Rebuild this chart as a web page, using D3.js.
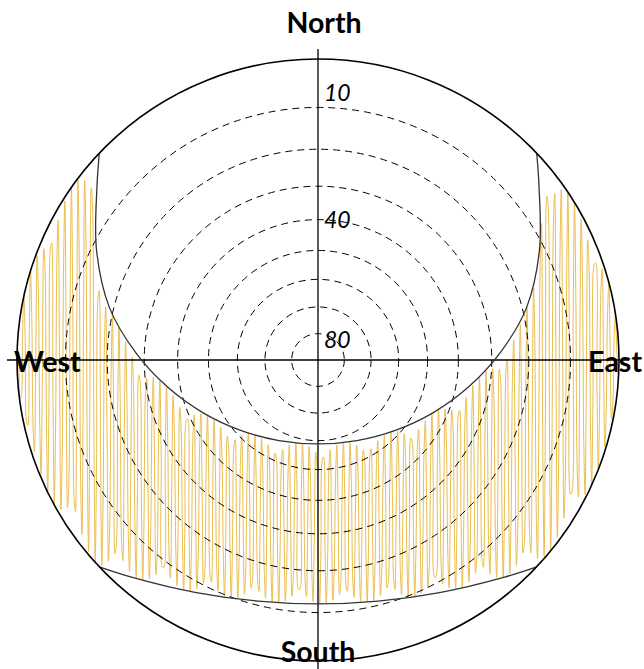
<!DOCTYPE html>
<html>
<head>
<meta charset="utf-8">
<script src="https://cdn.jsdelivr.net/npm/d3@7"></script>
<style>
  body { margin: 0; background: #fff; }
  text { font-family: Lato, "Open Sans", sans-serif; }
</style>
</head>
<body>
<svg id="chart"></svg>
<script>
// altitude rings (degrees above horizon) and the ones that get a label
const altitudeRings = [10, 20, 30, 40, 50, 60, 70, 80];
const ringLabels = [10, 40, 80];
const compassNames = ["North", "East", "South", "West"];

// summer solstice sun path, [azimuth, altitude]
const summerPath = [
  [46.6, 0], [52.1, 4.1], [63.6, 11.2], [75.9, 18.92], [87.6, 27.51],
  [100.2, 36.16], [114.7, 44.43], [132.3, 51.68], [154.2, 56.89], [180, 58.84],
  [205.8, 56.89], [227.7, 51.68], [245.3, 44.43], [259.8, 36.16], [272.4, 27.51],
  [284.1, 18.92], [296.4, 11.2], [307.9, 4.1], [313.4, 0]
];
// winter solstice sun path, [azimuth, altitude]
const winterPath = [
  [133.4, 0], [139.5, 2.96], [152.4, 7.82], [166, 10.91], [180, 11.96],
  [194, 10.91], [207.6, 7.82], [220.5, 2.96], [226.6, 0]
];

const width = 644, height = 669;
const cx = 318, cy = 360, R = 301;
const rad = Math.PI / 180;

const svg = d3.select('#chart')
  .attr('width', width)
  .attr('height', height);

// stereographic radius: tan of half zenith angle -> pixels
const rScale = d3.scaleLinear().domain([0, 1]).range([0, R]);
const radius = alt => rScale(Math.tan((90 - alt) / 2 * rad));
const proj = ([az, alt]) => {
  const r = radius(alt);
  return [cx + r * Math.sin(az * rad), cy - r * Math.cos(az * rad)];
};

const pathLine = d3.line().curve(d3.curveCatmullRom.alpha(0.5));
const summerD = pathLine(summerPath.map(proj));
const winterD = pathLine(winterPath.map(proj));

// lowest screen y of a path for each pixel column
function columnMax(d) {
  const p = svg.append('path').attr('d', d).attr('fill', 'none');
  const node = p.node();
  const len = node.getTotalLength();
  const m = new Map();
  for (let s = 0; s <= len; s += 0.4) {
    const pt = node.getPointAtLength(s);
    const k = Math.round(pt.x);
    if (!m.has(k) || pt.y > m.get(k)) m.set(k, pt.y);
  }
  p.remove();
  return m;
}
const summerCol = columnMax(summerD);
const winterCol = columnMax(winterD);

// hatch line that swings between the two solstice paths
const period = 6.8, step = period / 5.15;
const xs = d3.range(cx - R + 0.3, cx + R - 0.3, step);
const hatch = xs.map(x => {
  const half = Math.sqrt(Math.max(0, R * R - (x - cx) * (x - cx)));
  const k = Math.round(x);
  const top = summerCol.has(k) ? summerCol.get(k) : cy - half;
  const bottom = winterCol.has(k) ? winterCol.get(k) : cy + half;
  const f = (1 - Math.cos(2 * Math.PI * (x - (cx - R)) / period)) / 2;
  return [x, top + f * (bottom - top)];
});

svg.append('clipPath').attr('id', 'horizon')
  .append('circle').attr('cx', cx).attr('cy', cy).attr('r', R);

svg.append('path')
  .attr('clip-path', 'url(#horizon)')
  .attr('d', d3.line().curve(d3.curveCatmullRom)(hatch))
  .attr('fill', 'none')
  .attr('stroke', '#eabd4e')
  .attr('stroke-width', 1);

// dashed altitude rings
svg.append('g').selectAll('circle')
  .data(altitudeRings)
  .join('circle')
  .attr('cx', cx).attr('cy', cy)
  .attr('r', d => radius(d))
  .attr('fill', 'none')
  .attr('stroke', '#000')
  .attr('stroke-width', 1)
  .attr('stroke-dasharray', '7,5');

// axes
svg.append('line')
  .attr('x1', cx - R - 10).attr('x2', cx + R + 10)
  .attr('y1', cy).attr('y2', cy)
  .attr('stroke', '#000').attr('stroke-width', 1.3);
svg.append('line')
  .attr('x1', cx).attr('x2', cx)
  .attr('y1', cy - R - 10).attr('y2', cy + R + 12)
  .attr('stroke', '#000').attr('stroke-width', 1.3);

// solstice paths
svg.append('path').attr('d', summerD)
  .attr('fill', 'none').attr('stroke', '#333').attr('stroke-width', 1.3);
svg.append('path').attr('d', winterD)
  .attr('fill', 'none').attr('stroke', '#333').attr('stroke-width', 1.3);

// horizon
svg.append('circle')
  .attr('cx', cx).attr('cy', cy).attr('r', R)
  .attr('fill', 'none').attr('stroke', '#000').attr('stroke-width', 1.6);

// ring labels
const labelDy = {10: -6, 40: 8, 80: 14};
svg.append('g').selectAll('text')
  .data(ringLabels)
  .join('text')
  .attr('x', cx + 6)
  .attr('y', d => cy - radius(d) + labelDy[d])
  .attr('font-size', 23)
  .attr('font-style', 'italic')
  .text(d => d);

// compass labels
const compassPos = {
  North: {x: cx + 6, y: 33, anchor: 'middle'},
  South: {x: cx, y: 662, anchor: 'middle'},
  West: {x: 14, y: 372, anchor: 'start'},
  East: {x: 642, y: 372, anchor: 'end'}
};
svg.append('g').selectAll('text')
  .data(compassNames)
  .join('text')
  .attr('x', d => compassPos[d].x)
  .attr('y', d => compassPos[d].y)
  .attr('text-anchor', d => compassPos[d].anchor)
  .attr('font-size', 28.5)
  .attr('font-weight', 'bold')
  .text(d => d);
</script>
</body>
</html>
